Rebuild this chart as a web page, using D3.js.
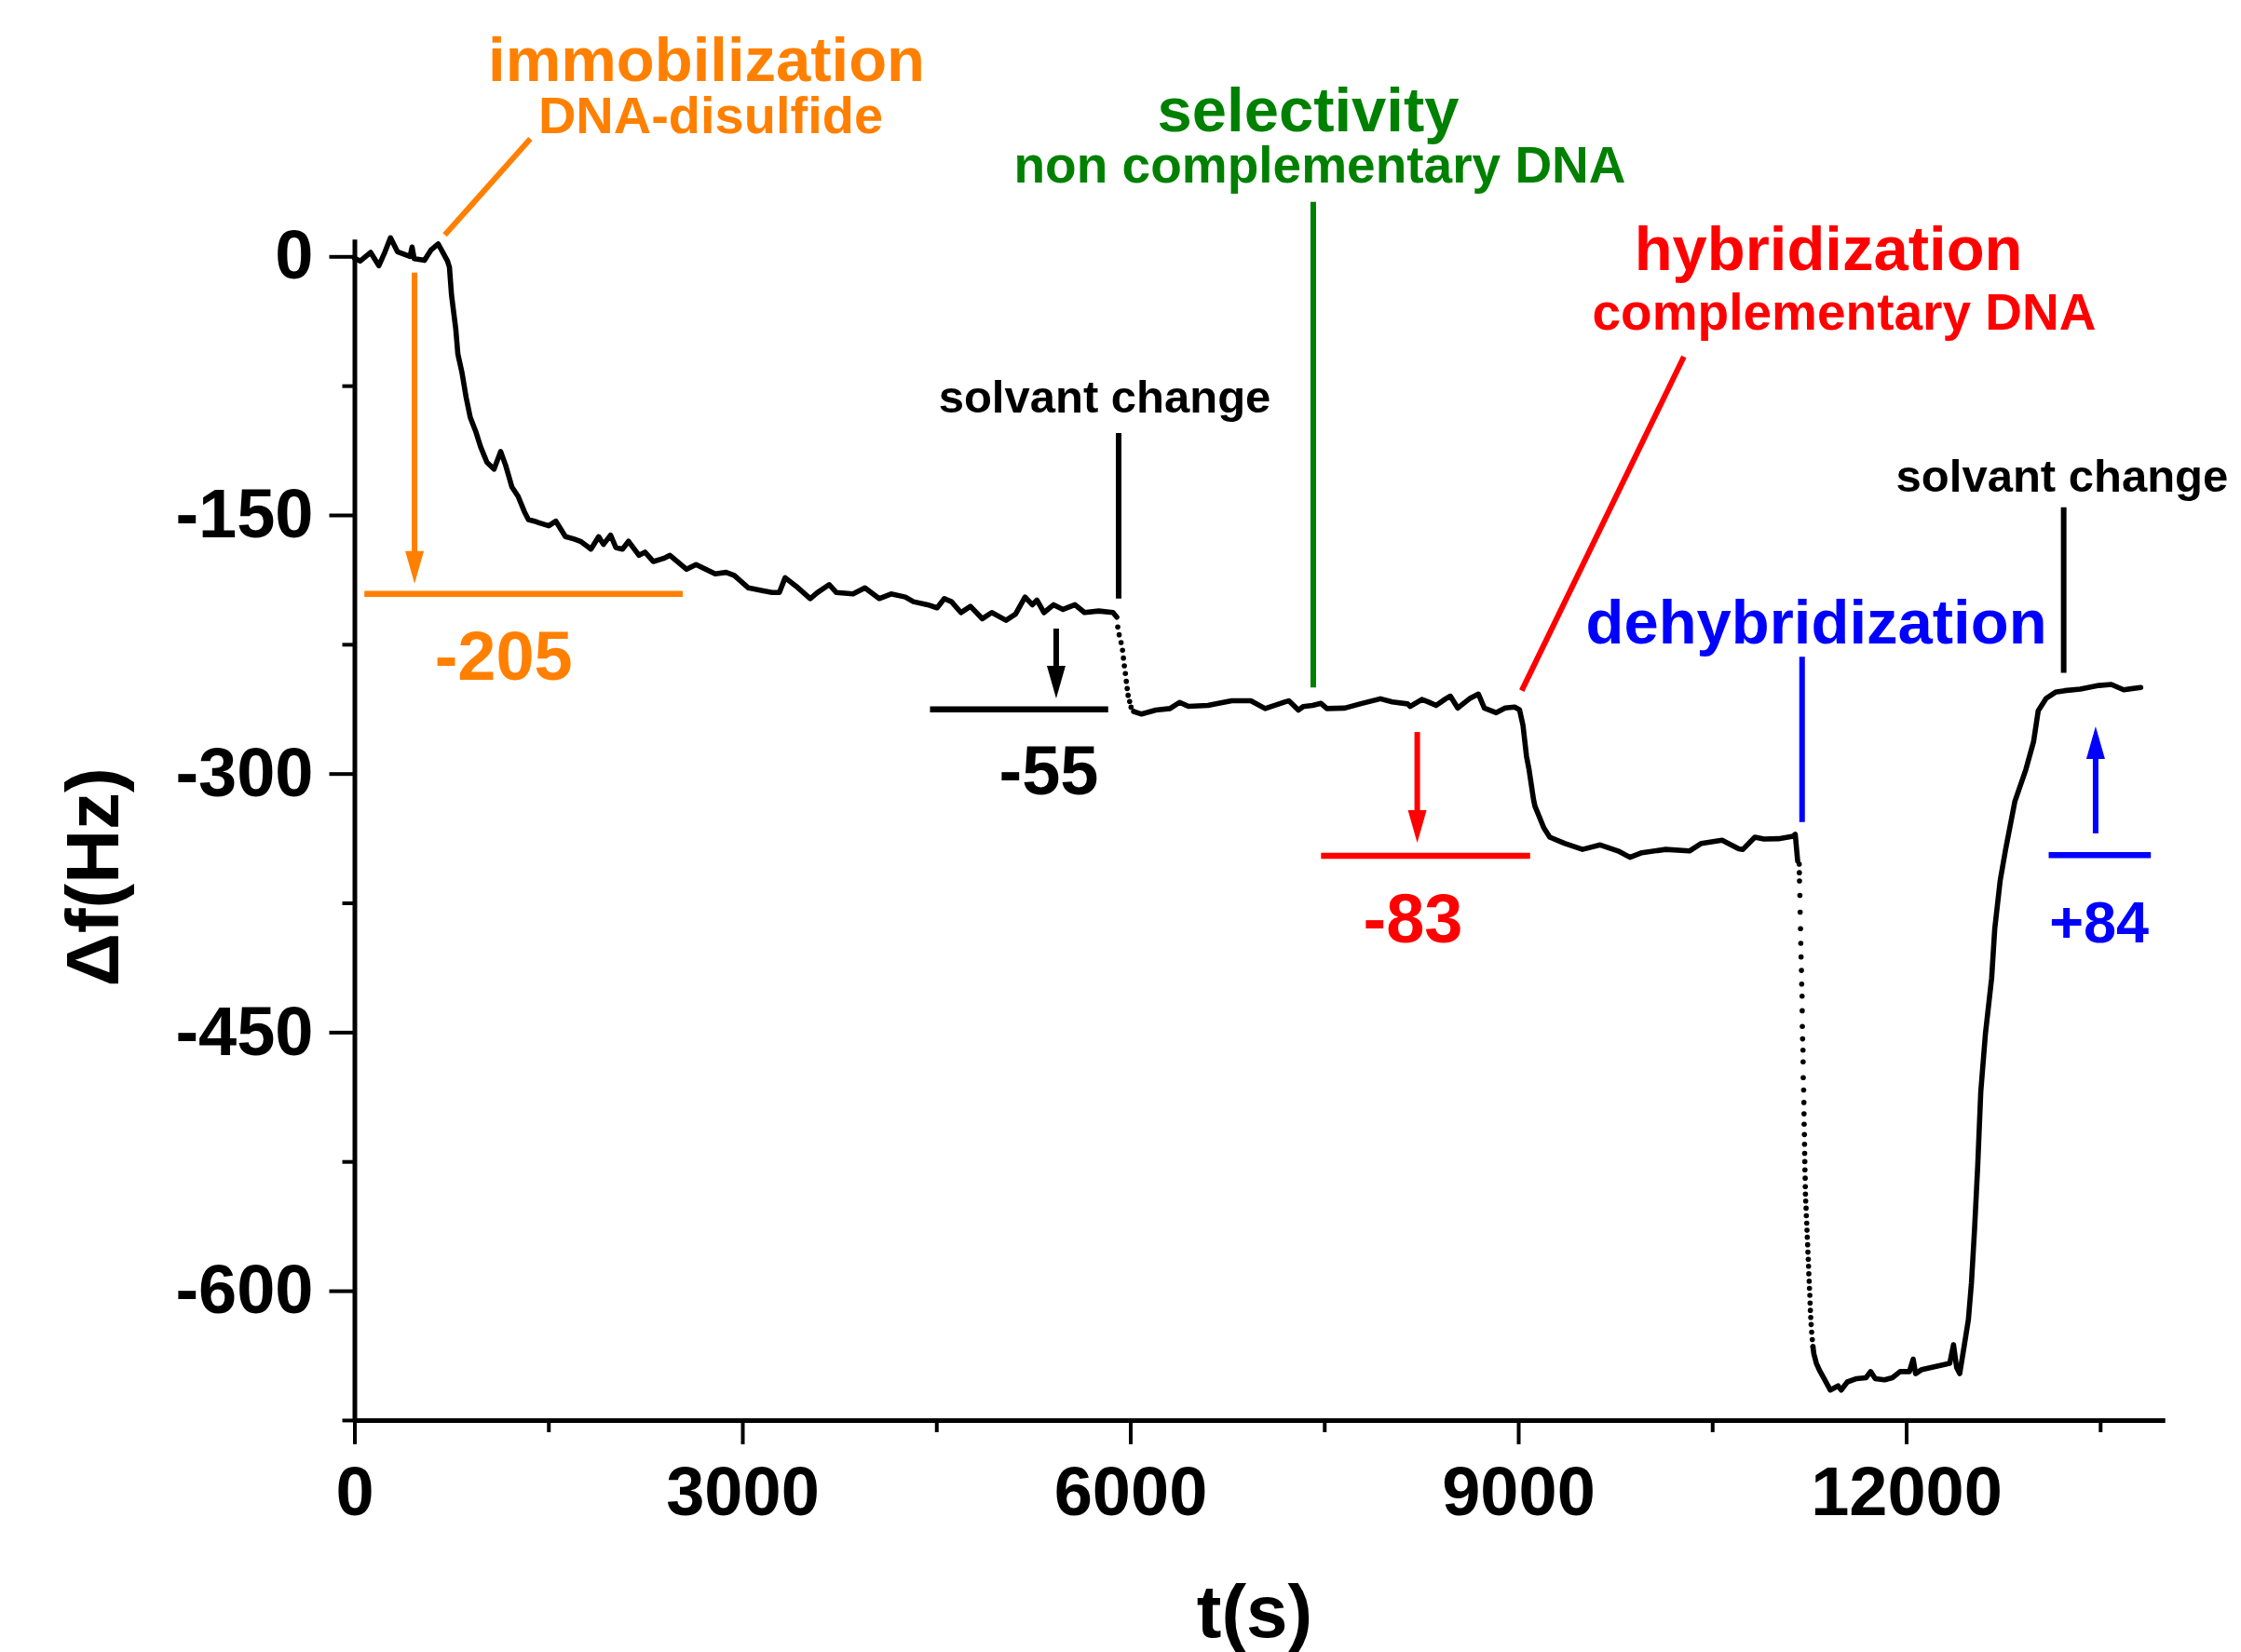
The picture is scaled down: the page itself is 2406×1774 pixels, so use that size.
<!DOCTYPE html>
<html><head><meta charset="utf-8">
<script src="https://cdn.jsdelivr.net/npm/d3@7"></script>
<style>
html,body{margin:0;padding:0;background:#fff;}
svg{display:block;}
text{font-family:"Liberation Sans",Arial,Helvetica,sans-serif;font-weight:bold;}
</style>
</head><body>
<svg id="chart" width="2406" height="1774"></svg>
<script>
// ---------- tick values ----------
const xMajorTicks = [0, 3000, 6000, 9000, 12000];
const xMinorTicks = [1500, 4500, 7500, 10500, 13500];
const yMajorTicks = [0, -150, -300, -450, -600];
const yMinorTicks = [-75, -225, -375, -525, -675];

// ---------- data: [t (s), Δf (Hz)] ----------
const immobilizationTrace = [
 [0,-1],[44,-2.7],[125,2.3],[189,-5.4],[237,2.7],[279,10.8],[333,2.7],[430,0],[446,5.4],[462,-1.3],
 [542,-2.3],[591,3.6],[648,7.2],[681,2.7],[720,-2.7],[735,-6.3],[751,-22.5],[784,-42.2],[800,-56.6],
 [832,-67.4],[864,-81.8],[896,-93.4],[938,-101.5],[976,-110.5],[1025,-119.5],[1080,-123.4],[1131,-113.2],
 [1170,-121.3],[1218,-133.8],[1266,-139.2],[1315,-148.2],[1346,-152.7],[1393,-153.6],[1427,-154.5],
 [1503,-156.3],[1558,-153.6],[1632,-162.6],[1700,-164],[1748,-165.3],[1797,-168],[1829,-169.8],
 [1889,-162.6],[1926,-167.1],[1981,-161.7],[2022,-168.9],[2073,-169.8],[2120,-165.3],[2201,-173.4],
 [2247,-171.6],[2311,-177],[2391,-175.2],[2440,-173.4],[2569,-181.5],[2642,-178.8],[2790,-184.2],
 [2874,-183.3],[2937,-185.1],[3047,-192.3],[3163,-194],[3231,-195],[3286,-195],[3331,-186.4],
 [3415,-191.3],[3525,-198.5],[3580,-195],[3672,-190.4],[3728,-195],[3856,-195.8],[3948,-192.3],
 [4058,-198.5],[4150,-195.8],[4260,-197.6],[4323,-200.3],[4433,-202.1],[4506,-203.9],[4562,-198.5],
 [4617,-200.3],[4690,-206.6],[4764,-203],[4856,-210.2],[4929,-206.6],[5039,-211.1],[5113,-207.5],
 [5186,-197.6],[5242,-202.1],[5278,-199.4],[5333,-206.6],[5407,-202.1],[5480,-204.8],[5572,-202.1],
 [5646,-206.6],[5756,-205.7],[5866,-206.6],[5896,-209.3]
];
const solventDropDots = [
 [5903,-215],[5914,-219.5],[5929,-224],[5940,-228.5],[5947,-233],[5954,-237.5],[5962,-242],
 [5969,-246.5],[5976,-250.7],[5983,-254.6],[5995,-258.2],[6006,-261.5],[6027,-264]
];
const hybridizationTrace = [
 [6027,-264],[6087,-265.5],[6197,-263.2],[6307,-262.3],[6381,-258.7],[6450,-261],[6601,-260.5],
 [6700,-259],[6785,-257.8],[6932,-257.8],[7043,-262.3],[7199,-258.4],[7226,-257.8],[7300,-263.2],
 [7337,-261.1],[7410,-260.5],[7475,-259.3],[7520,-262.3],[7659,-262],[7777,-259.6],[7934,-256.6],
 [8026,-258.4],[8145,-259.6],[8164,-261.1],[8255,-257],[8302,-258.4],[8365,-260.5],[8439,-256.6],
 [8475,-255.1],[8532,-262],[8577,-259.3],[8623,-256.6],[8692,-253.9],[8738,-262],[8830,-264.7],
 [8899,-262],[8972,-261.4],[9010,-263],[9037,-272.2],[9064,-290],[9083,-297.4],[9118,-315],
 [9129,-318.9],[9198,-331.5],[9244,-336.9],[9358,-340.5],[9497,-344],[9634,-341.4],[9772,-344.9],
 [9864,-348.6],[9956,-345.9],[10140,-344],[10324,-344.9],[10416,-340.5],[10576,-338.7],[10705,-343.6],
 [10737,-344],[10830,-336.9],[10900,-338],[11013,-337.8],[11125,-336.4],[11142,-335.2],[11161,-350.8]
];
const dehybridizationDropDots = [
 [11173,-352.6],[11174,-357.5],[11175,-362.3],[11178,-370.7],[11180,-380.4],[11183,-390],[11185,-398.5],
 [11187,-406.4],[11190,-414.2],[11192,-422.1],[11195,-429.1],[11196,-437.6],[11197,-446.7],[11199,-453.9],
 [11202,-460.5],[11203,-467.2],[11204,-476.4],[11207,-483.6],[11209,-490.8],[11210,-497.4],[11211,-503.4],
 [11213,-509.4],[11214,-515],[11215,-520.3],[11216,-525.1],[11217,-529.9],[11219,-534.7],[11220,-539.6],
 [11221,-543.9],[11223,-548],[11226,-552.1],[11228,-556.5],[11231,-560.8],[11233,-564.9],[11235,-569],
 [11238,-573.3],[11240,-577.6],[11243,-581.7],[11245,-585.8],[11247,-590.2],[11250,-594.5],[11252,-598.6],
 [11255,-602.7],[11257,-607.1],[11259,-611.4],[11262,-615.5],[11265,-619.6],[11269,-624],[11274,-628.3],
 [11279,-632.4]
];
const recoveryTrace = [
 [11279,-632.4],[11286,-636.5],[11305,-642],[11329,-646.1],[11365,-651],[11413,-657.6],[11473,-655.2],
 [11497,-657.6],[11545,-652.9],[11617,-651],[11689,-650.5],[11725,-646.9],[11761,-651],[11833,-651.7],
 [11893,-650.5],[11953,-646.9],[12025,-646.9],[12054,-639.7],[12073,-648.1],[12121,-645.7],[12193,-644.5],
 [12265,-643.3],[12337,-642.1],[12366,-631.3],[12390,-644.5],[12414,-648.1],[12445,-633.7],[12481,-616.8],
 [12505,-595.2],[12529,-564],[12553,-527.9],[12577,-484.5],[12613,-450.8],[12661,-418.6],[12685,-390],
 [12727,-362],[12769,-344],[12841,-316],[12925,-297.8],[12985,-281.6],[13021,-263.6],[13082,-256.4],
 [13154,-252.8],[13226,-251.9],[13346,-251],[13490,-248.9],[13586,-248.3],[13682,-251.4],[13814,-250.1]
];

// ---------- annotation content ----------
const ORANGE = "#FF8000", GREEN = "#008000", RED = "#FF0000", BLUE = "#0000FF", BLACK = "#000000";
const annotationTexts = [
 {text:"immobilization", t:2723, f:101.7, size:67, color:ORANGE},
 {text:"DNA-disulfide", t:2755, f:71.5, size:56, color:ORANGE},
 {text:"-205", t:1154, f:-245.6, size:74, color:ORANGE},
 {text:"selectivity", t:7376, f:72.5, size:67, color:GREEN},
 {text:"non complementary DNA", t:7466, f:42.8, size:55, color:GREEN},
 {text:"solvant change", t:5802, f:-90.6, size:49, color:BLACK},
 {text:"-55", t:5370, f:-312.1, size:74, color:BLACK},
 {text:"hybridization", t:11399, f:-8.2, size:67, color:RED},
 {text:"complementary DNA", t:11521, f:-42.3, size:55, color:RED},
 {text:"-83", t:8186, f:-397.8, size:74, color:RED},
 {text:"dehybridization", t:11305, f:-224.5, size:67, color:BLUE},
 {text:"solvant change", t:13206, f:-136.5, size:49, color:BLACK},
 {text:"+84", t:13492, f:-397.7, size:63, color:BLUE}
];
const annotationLines = [
 {t1:1361, f1:68.2, t2:699, f2:12.4, color:ORANGE},
 {t1:7415, f1:31.7, t2:7415, f2:-250.1, color:GREEN},
 {t1:5910, f1:-102.5, t2:5910, f2:-198.5, color:BLACK},
 {t1:10281, f1:-58.2, t2:9027, f2:-251.9, color:RED},
 {t1:11195, f1:-232.2, t2:11195, f2:-328.1, color:BLUE},
 {t1:13218, f1:-145.6, t2:13218, f2:-241.6, color:BLACK}
];
const levelBars = [
 {t1:77, t2:2539, f:-195.8, color:ORANGE},
 {t1:4451, t2:5829, f:-262.7, color:BLACK},
 {t1:7475, t2:9092, f:-347.7, color:RED},
 {t1:13102, t2:13892, f:-347.3, color:BLUE}
];
const shiftArrows = [
 {t:465, from:-9.4, to:-189.8, color:ORANGE},
 {t:5427, from:-215.9, to:-256.4, color:BLACK},
 {t:8219, from:-275.9, to:-340.2, color:RED},
 {t:13465, from:-334.7, to:-272.6, color:BLUE}
];

// ---------- drawing ----------
const svg = d3.select("#chart");
svg.append("rect").attr("width",2406).attr("height",1774).attr("fill","#fff");

const x = d3.scaleLinear().domain([0,14000]).range([380.5,2324.2]);
const y = d3.scaleLinear().domain([10,-675]).range([256.8,1524.9]);
const fmt = d => String(d);

// axes
const xAxisG = svg.append("g").attr("transform",`translate(0,${y(-675)})`);
xAxisG.call(d3.axisBottom(x).tickValues(xMajorTicks).tickSize(26).tickSizeOuter(0).tickPadding(24).tickFormat(fmt));
const xMinorG = svg.append("g").attr("transform",`translate(0,${y(-675)})`);
xMinorG.call(d3.axisBottom(x).tickValues(xMinorTicks).tickSize(13).tickSizeOuter(0).tickFormat(""));
xMinorG.select(".domain").remove();

const yAxisG = svg.append("g").attr("transform",`translate(${x(0)},0)`);
yAxisG.call(d3.axisLeft(y).tickValues(yMajorTicks).tickSize(27).tickSizeOuter(0).tickPadding(17).tickFormat(fmt));
const yMinorG = svg.append("g").attr("transform",`translate(${x(0)},0)`);
yMinorG.call(d3.axisLeft(y).tickValues(yMinorTicks).tickSize(13).tickSizeOuter(0).tickFormat(""));
yMinorG.select(".domain").remove();

svg.selectAll(".domain").attr("stroke","#000").attr("stroke-width",5);
svg.selectAll(".tick line").attr("stroke","#000").attr("stroke-width",4);
svg.selectAll(".tick text").attr("fill","#000").attr("font-size",74)
  .attr("font-family","'Liberation Sans',Arial,sans-serif").attr("font-weight","bold");

// axis titles
svg.append("text").attr("x",1347).attr("y",1758).attr("text-anchor","middle")
  .attr("font-size",80).attr("fill","#000").text("t(s)");
svg.append("text").attr("transform","translate(127,942) rotate(-90)").attr("text-anchor","middle")
  .attr("font-size",80).attr("fill","#000").text("\u0394f(Hz)");

// data
const line = d3.line().x(d=>x(d[0])).y(d=>y(d[1]));
[immobilizationTrace, hybridizationTrace, recoveryTrace].forEach(tr => {
  svg.append("path").datum(tr).attr("d",line).attr("fill","none").attr("stroke","#000")
    .attr("stroke-width",5.6).attr("stroke-linejoin","round").attr("stroke-linecap","round");
});
[solventDropDots, dehybridizationDropDots].forEach(ds => {
  svg.append("g").selectAll("circle").data(ds).join("circle")
    .attr("cx",d=>x(d[0])).attr("cy",d=>y(d[1])).attr("r",2.8).attr("fill","#000");
});

// annotation lines
svg.append("g").selectAll("line").data(annotationLines).join("line")
  .attr("x1",d=>x(d.t1)).attr("y1",d=>y(d.f1)).attr("x2",d=>x(d.t2)).attr("y2",d=>y(d.f2))
  .attr("stroke",d=>d.color).attr("stroke-width",6);

// level bars
svg.append("g").selectAll("line").data(levelBars).join("line")
  .attr("x1",d=>x(d.t1)).attr("x2",d=>x(d.t2)).attr("y1",d=>y(d.f)).attr("y2",d=>y(d.f))
  .attr("stroke",d=>d.color).attr("stroke-width",6.5);

// arrows
const headLen = 35, headHalf = 10;
shiftArrows.forEach(a => {
  const xs = x(a.t), y1 = y(a.from), y2 = y(a.to);
  const dir = Math.sign(y2 - y1);
  const base = y2 - dir*headLen;
  svg.append("line").attr("x1",xs).attr("x2",xs).attr("y1",y1).attr("y2",base + dir*2)
    .attr("stroke",a.color).attr("stroke-width",6);
  svg.append("path").attr("d",`M${xs-headHalf},${base}L${xs+headHalf},${base}L${xs},${y2}Z`)
    .attr("fill",a.color);
});

// texts
svg.append("g").selectAll("text").data(annotationTexts).join("text")
  .attr("x",d=>x(d.t)).attr("y",d=>y(d.f)).attr("text-anchor","middle")
  .attr("font-size",d=>d.size).attr("fill",d=>d.color).text(d=>d.text);
</script>
</body></html>
